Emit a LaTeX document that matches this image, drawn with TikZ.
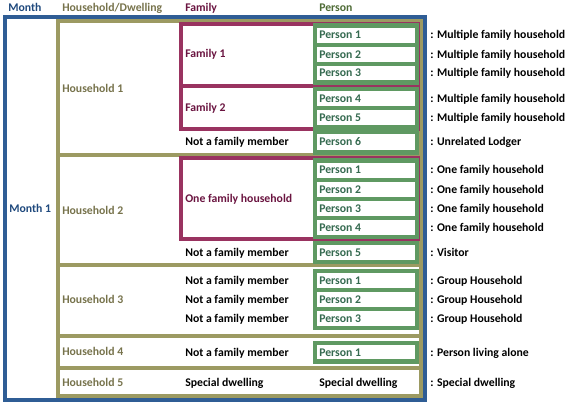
\documentclass[tikz,border=0pt]{standalone}
\usepackage{fontspec}
\setmainfont{Carlito}
\usepackage{xcolor}
\usepackage{tikz}
\definecolor{monthblue}{HTML}{2F5D95}
\definecolor{monthtext}{HTML}{1F497D}
\definecolor{houseolive}{HTML}{9C9A62}
\definecolor{housetext}{HTML}{77734C}
\definecolor{famred}{HTML}{993360}
\definecolor{famtext}{HTML}{6A1440}
\definecolor{persgreen}{HTML}{5F9962}
\definecolor{perstext}{HTML}{356A50}
\definecolor{persheader}{HTML}{4E6B35}

\begin{document}
\begin{tikzpicture}[x=0.75pt, y=-0.75pt,
    every node/.style={font=\fontsize{8.8}{10.5}\selectfont\bfseries, inner sep=0pt, anchor=west,
        text height=5.7pt, text depth=0pt},
    monthbox/.style={draw=monthblue, line width=3pt},
    housebox/.style={draw=houseolive, line width=3pt},
    famibox/.style={draw=famred, line width=3pt},
    personbox/.style={draw=persgreen, line width=3.2pt}
]
\useasboundingbox (0,0) rectangle (572,404);

% column headers
\node[text=monthtext] (hdmonth) at (8,8) {Month};
\node[text=housetext] (hdhouse) at (62,8) {Household/Dwelling};
\node[text=famtext] (hdfamily) at (185,8) {Family};
\node[text=persheader] (hdperson) at (319,8) {Person};

% month
\draw[monthbox] (5,17) rectangle (425,400);
\node[text=monthtext] (month1) at (9,208.5) {Month 1};

% households
\draw[housebox] (58,21) rectangle (421,396);
\foreach \y in {155,265,336,367.5} {
    \draw[housebox] (58,\y) -- (421,\y);
}
\node[text=housetext] (hh1) at (62,89) {Household 1};
\node[text=housetext] (hh2) at (62,211) {Household 2};
\node[text=housetext] (hh3) at (62,300) {Household 3};
\node[text=housetext] (hh4) at (62,352) {Household 4};
\node[text=housetext] (hh5) at (62,383) {Household 5};

% families
\draw[famibox] (181,24) rectangle (417.5,86);
\draw[famibox] (181,86) rectangle (417.5,128.5);
\draw[famibox] (181,158) rectangle (417.5,239);
\node[text=famtext] (fam1) at (185,54) {Family 1};
\node[text=famtext] (fam2) at (185,108) {Family 2};
\node[text=famtext] (fam3) at (185,198.5) {One family household};

% persons
\foreach \n/\t/\b/\lab/\note in {
    1/25.5/44.8/Person 1/Multiple family household,
    2/44.8/63.8/Person 2/Multiple family household,
    3/63.8/82.5/Person 3/Multiple family household,
    4/88.7/108/Person 4/Multiple family household,
    5/108/126.7/Person 5/Multiple family household,
    6/131.5/152.5/Person 6/Unrelated Lodger,
    7/160.5/179.8/Person 1/One family household,
    8/179.8/198.8/Person 2/One family household,
    9/198.8/218/Person 3/One family household,
    10/218/237.2/Person 4/One family household,
    11/243/261.7/Person 5/Visitor,
    12/271.3/290/Person 1/Group Household,
    13/290/308.8/Person 2/Group Household,
    14/308.8/328.2/Person 3/Group Household,
    15/343/361.5/Person 1/Person living alone} {
    \draw[personbox] (315,\t) rectangle (417,\b);
    \node[text=perstext] (p\n) at (319,{(\t+\b)/2}) {\lab};
    \node (note\n) at (430,{(\t+\b)/2}) {: \note};
}

% not a family member
\foreach \n/\y in {6/142,11/252.3,12/280.6,13/299.4,14/318.5,15/352.2} {
    \node (nf\n) at (185,\y) {Not a family member};
}
\node (sd1) at (185,383) {Special dwelling};
\node (sd2) at (319,383) {Special dwelling};
\node (note16) at (430,383) {: Special dwelling};
\end{tikzpicture}
\end{document}
